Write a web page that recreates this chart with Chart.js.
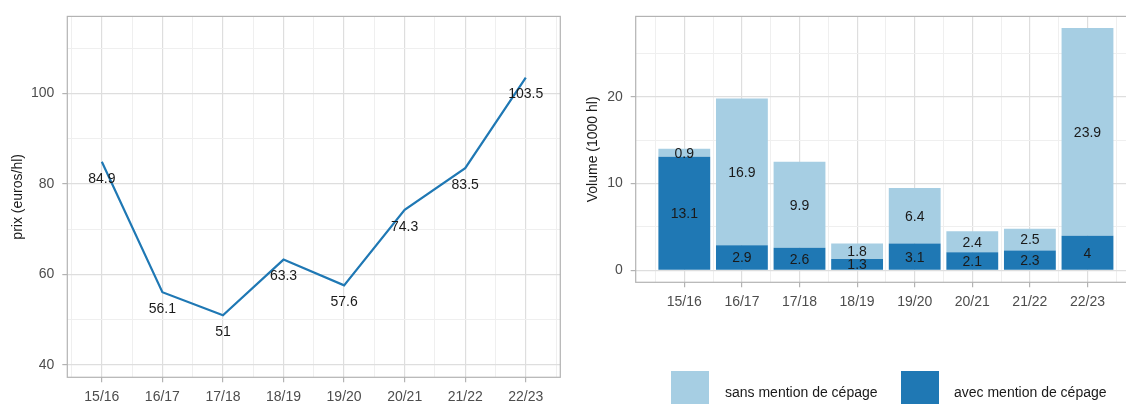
<!DOCTYPE html>
<html>
<head>
<meta charset="utf-8">
<script src="https://cdn.jsdelivr.net/npm/chart.js@4.4.0/dist/chart.umd.min.js"></script>
<style>
  html, body { margin: 0; padding: 0; background: #fff; overflow: hidden; width: 1126px; height: 404px; }
  #prixBox { position: absolute; left: 0; top: 0; }
  #volBox { position: absolute; left: 565px; top: 0; }
  .cle { position: absolute; font-family: 'Liberation Sans', Arial, sans-serif; font-size: 14px; color: #1a1a1a; }
  .carre { position: absolute; width: 38px; height: 38px; top: 371px; }
</style>
</head>
<body>
<div id="prixBox"><canvas id="prix" width="565" height="404"></canvas></div>
<div id="volBox"><canvas id="volume" width="581" height="404"></canvas></div>

<div class="carre" style="left:671px; background:#a6cee3"></div>
<div class="cle" style="left:725px; top:384px">sans mention de cépage</div>
<div class="carre" style="left:901px; background:#1f78b4"></div>
<div class="cle" style="left:954px; top:384px">avec mention de cépage</div>

<script>
const campagnes = ['15/16', '16/17', '17/18', '18/19', '19/20', '20/21', '21/22', '22/23'];
const prix = [84.9, 56.1, 51, 63.3, 57.6, 74.3, 83.5, 103.5];
const volAvec = [13.1, 2.9, 2.6, 1.3, 3.1, 2.1, 2.3, 4];
const volSans = [0.9, 16.9, 9.9, 1.8, 6.4, 2.4, 2.5, 23.9];
const ticksPrix = [40, 60, 80, 100];
const ticksVol = [0, 10, 20];

const police = "'Liberation Sans', Arial, sans-serif";
const bleuFonce = '#1f78b4';
const bleuClair = '#a6cee3';

// ticks majeurs sur les campagnes, mineurs entre deux
function ticksX(scale) {
    let t = [];
    for (let i = 0; i < campagnes.length; i++) {
        t.push({ value: i - 0.5 });
        t.push({ value: i });
    }
    t.push({ value: campagnes.length - 0.5 });
    scale.ticks = t;
}

function ticksY(pas, debut, fin) {
    return function (scale) {
        let t = [];
        for (let v = debut; v <= fin; v += pas) t.push({ value: v });
        scale.ticks = t;
    };
}

const cadre = {
    id: 'cadre',
    afterDraw(chart) {
        const a = chart.chartArea;
        const ctx = chart.ctx;
        ctx.save();
        ctx.strokeStyle = '#b3b3b3';
        ctx.lineWidth = 1.2;
        ctx.strokeRect(a.left, a.top, a.right - a.left, a.bottom - a.top);
        ctx.restore();
    }
};

const etiquettes = {
    id: 'etiquettes',
    afterDatasetsDraw(chart) {
        const ctx = chart.ctx;
        ctx.save();
        ctx.font = '14px ' + police;
        ctx.fillStyle = '#1a1a1a';
        ctx.textAlign = 'center';
        ctx.textBaseline = 'middle';
        chart.data.datasets.forEach((ds, d) => {
            const meta = chart.getDatasetMeta(d);
            meta.data.forEach((el, i) => {
                const v = ds.data[i].y;
                if (chart.config.type === 'line') {
                    ctx.fillText(String(v), el.x, el.y + 17);
                } else {
                    ctx.fillText(String(v), el.x, (el.y + el.base) / 2 + 1);
                }
            });
        });
        ctx.restore();
    }
};

function axeX(min, max, hauteur) {
    return {
        type: 'linear',
        min: min,
        max: max,
        offset: false,
        afterBuildTicks: ticksX,
        afterFit: (s) => { s.height = hauteur; },
        grid: {
            offset: false,
            tickLength: 5,
            color: (c) => Number.isInteger(c.tick.value) ? '#dedede' : '#efefef',
            lineWidth: (c) => Number.isInteger(c.tick.value) ? 1.2 : 1,
            tickColor: (c) => Number.isInteger(c.tick.value) ? '#b3b3b3' : 'rgba(0,0,0,0)'
        },
        border: { display: false },
        ticks: {
            autoSkip: false,
            maxRotation: 0,
            padding: 6,
            color: '#4d4d4d',
            font: { family: police, size: 14 },
            callback: (v) => Number.isInteger(v) ? campagnes[v] : ''
        }
    };
}

function axeY(min, max, largeur, majeurs, pas, titre, decal) {
    return {
        min: min,
        max: max,
        afterBuildTicks: ticksY(pas, majeurs[0], max),
        afterFit: (s) => { s.width = largeur; },
        grid: {
            tickLength: 5,
            color: (c) => majeurs.includes(c.tick.value) ? '#dedede' : '#efefef',
            lineWidth: (c) => majeurs.includes(c.tick.value) ? 1.2 : 1,
            tickColor: (c) => majeurs.includes(c.tick.value) ? '#b3b3b3' : 'rgba(0,0,0,0)'
        },
        border: { display: false },
        ticks: {
            autoSkip: false,
            padding: 8,
            color: '#4d4d4d',
            font: { family: police, size: 14 },
            callback: (v) => majeurs.includes(v) ? v : ''
        },
        title: {
            display: true,
            text: titre,
            color: '#1a1a1a',
            font: { family: police, size: 14 },
            padding: { top: decal, bottom: 0 }
        }
    };
}

new Chart(document.getElementById('prix'), {
    type: 'line',
    data: {
        datasets: [{
            label: 'prix',
            data: prix.map((v, i) => ({ x: i, y: v })),
            borderColor: bleuFonce,
            borderWidth: 2.2,
            pointRadius: 0,
            tension: 0,
            fill: false
        }]
    },
    options: {
        responsive: false,
        animation: false,
        layout: { padding: { left: 0, top: 12, right: 4.7, bottom: 0 } },
        plugins: { legend: { display: false }, tooltip: { enabled: false } },
        scales: {
            x: axeX(-0.57, 7.57, 26.7),
            y: axeY(37.3, 117, 67.3, ticksPrix, 10, 'prix (euros/hl)', 9.6)
        }
    },
    plugins: [cadre, etiquettes]
});

new Chart(document.getElementById('volume'), {
    type: 'bar',
    data: {
        datasets: [
            {
                label: 'avec mention de cépage',
                data: volAvec.map((v, i) => ({ x: i, y: v })),
                backgroundColor: bleuFonce
            },
            {
                label: 'sans mention de cépage',
                data: volSans.map((v, i) => ({ x: i, y: v })),
                backgroundColor: bleuClair
            }
        ]
    },
    options: {
        responsive: false,
        animation: false,
        // l'écart mini est pris sur les ticks mineurs (demi-pas) -> 0.9 * 2
        barPercentage: 1.8,
        categoryPercentage: 1,
        layout: { padding: { left: 0, top: 12, right: 9.9, bottom: 94.7 } },
        plugins: { legend: { display: false }, tooltip: { enabled: false } },
        scales: {
            x: Object.assign(axeX(-0.844, 7.844, 27), { stacked: true }),
            y: Object.assign(axeY(-1.37, 29.25, 70.7, ticksVol, 5, 'Volume (1000 hl)', 19.6), { stacked: true })
        }
    },
    plugins: [cadre, etiquettes]
});
</script>
</body>
</html>
